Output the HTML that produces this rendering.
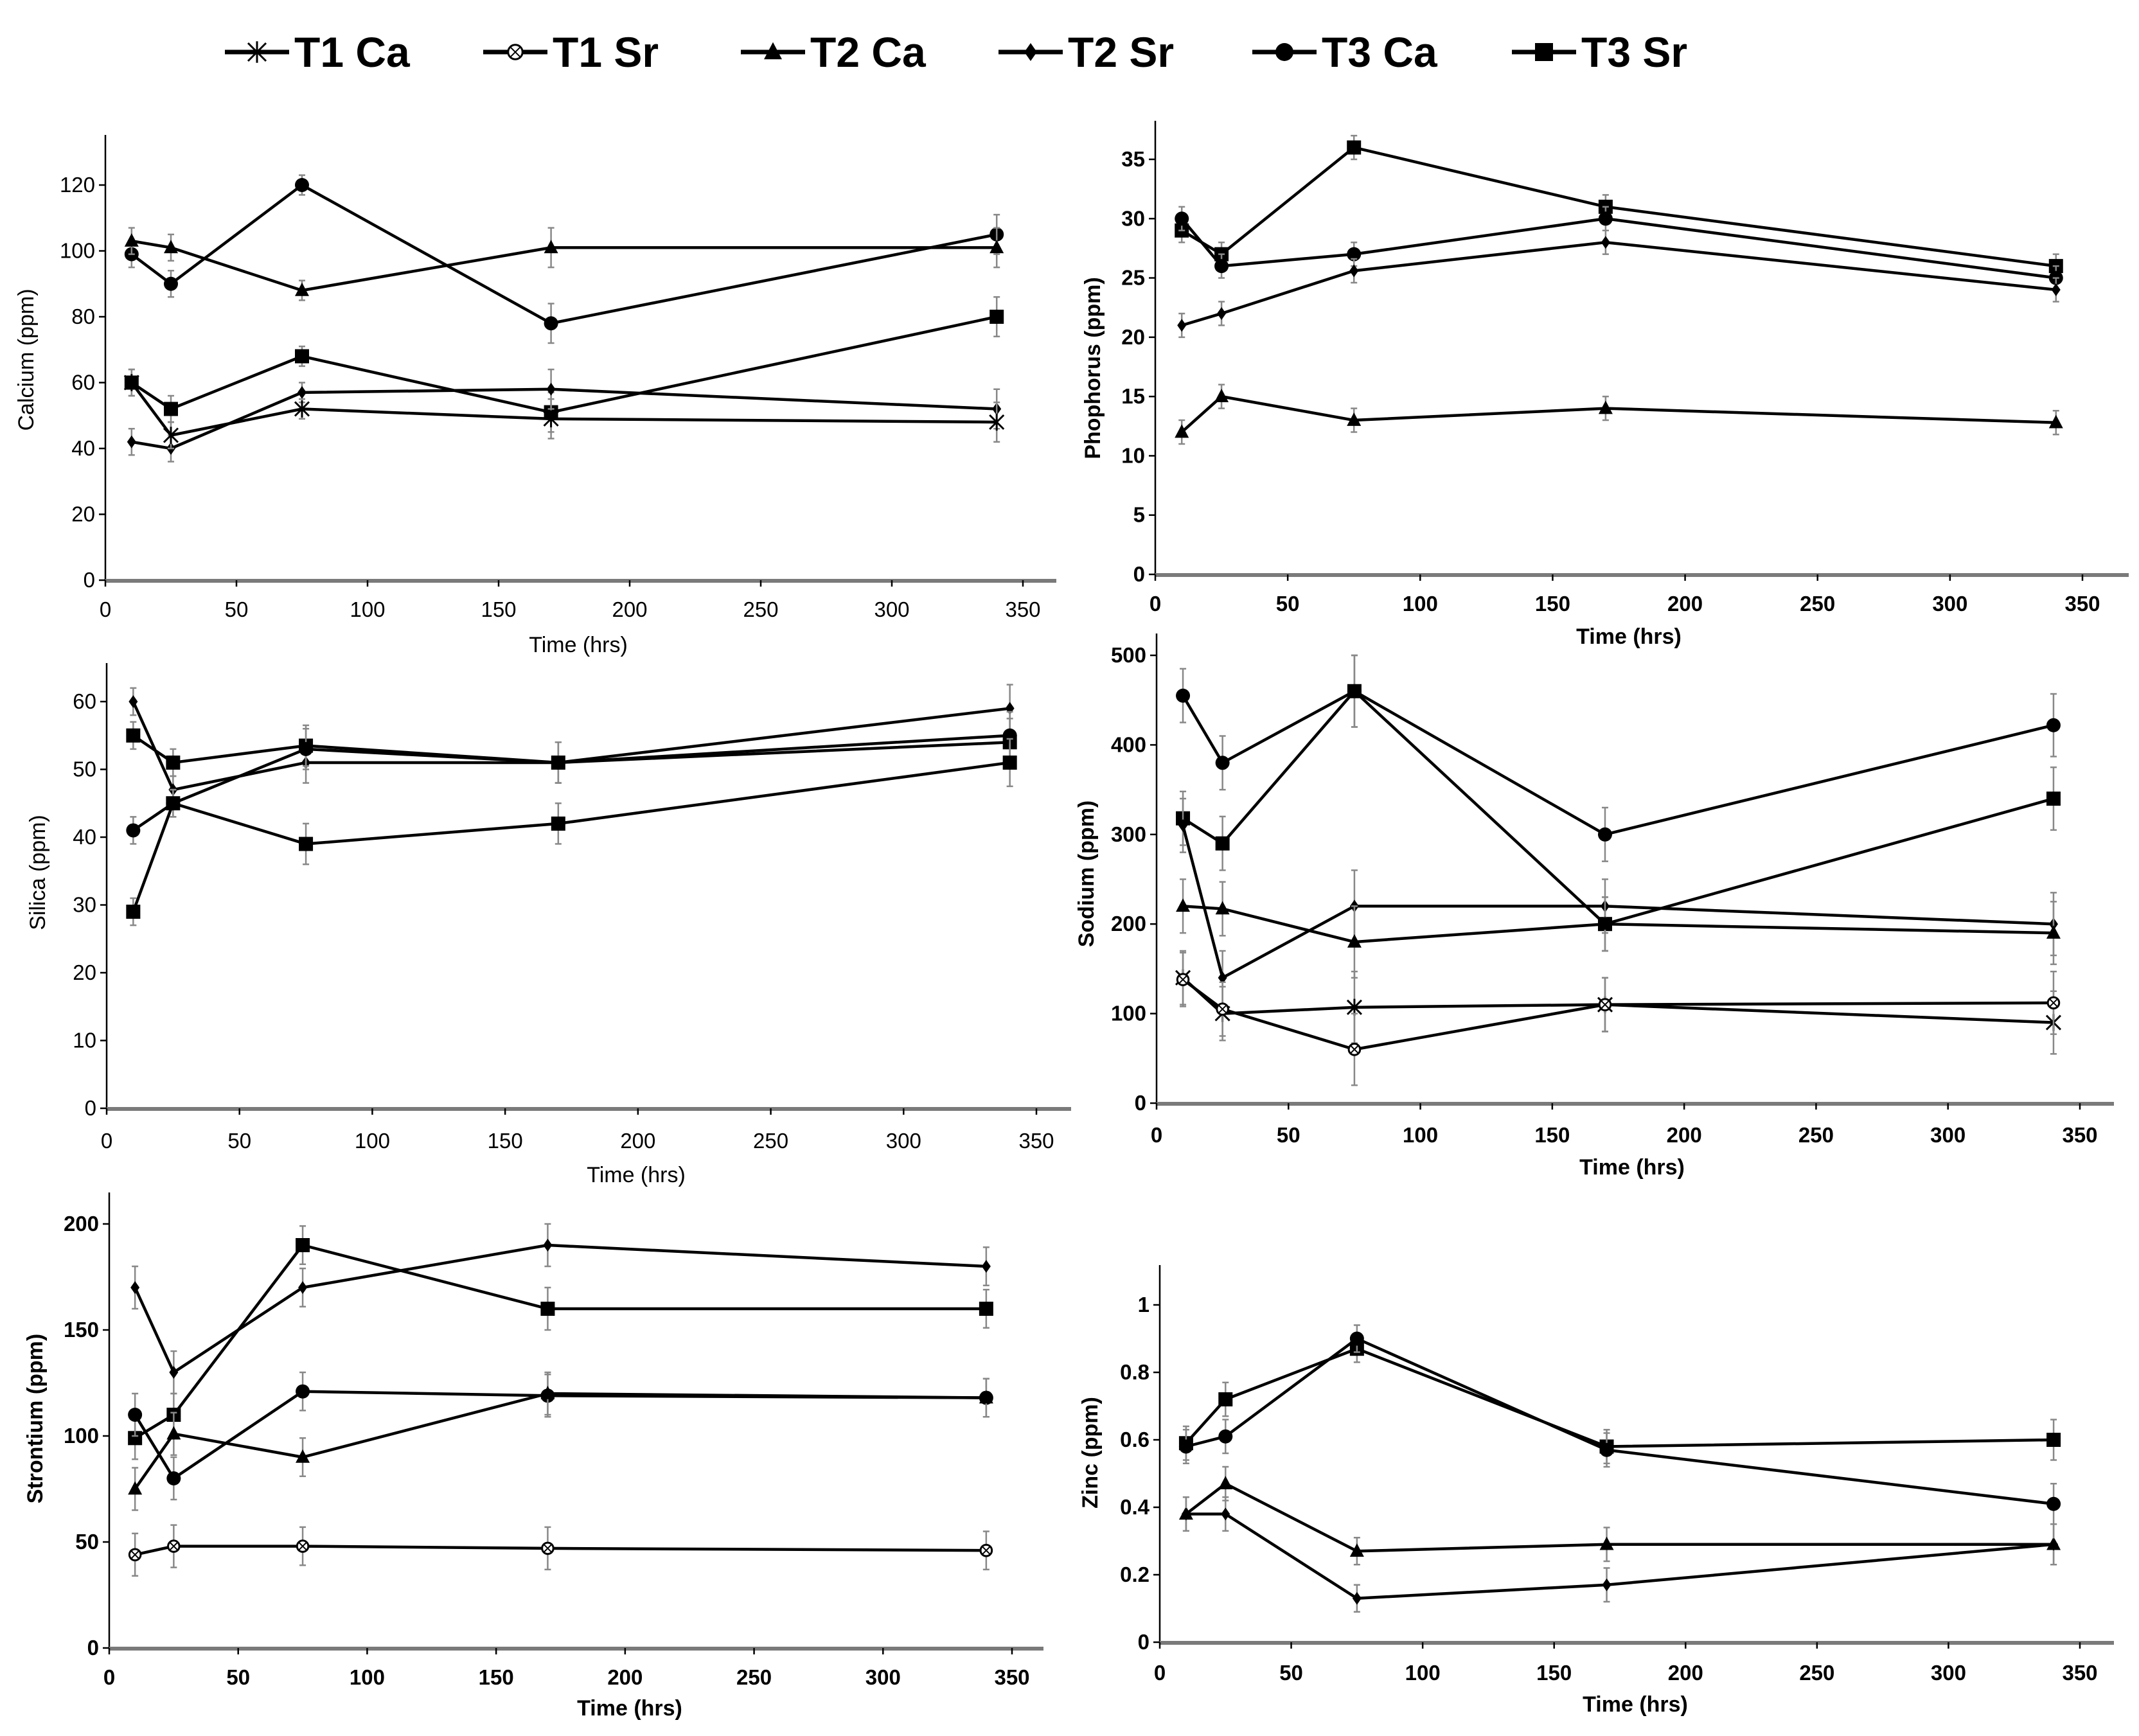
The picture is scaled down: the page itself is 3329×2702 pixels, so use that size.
<!DOCTYPE html>
<html><head><meta charset="utf-8">
<style>
html,body{margin:0;padding:0;background:#fff;}
svg{display:block;}
text{font-family:"Liberation Sans Narrow","Liberation Sans",sans-serif;}
</style></head>
<body>
<svg id="chart" width="3329" height="2702" viewBox="0 0 3329 2702" xmlns="http://www.w3.org/2000/svg">
<rect x="0" y="0" width="3329" height="2702" fill="#fff"/>
<g id="legend"></g>
<g id="panels"></g>
</svg>
<script>
// ---------- data ----------
const times = [10, 25, 75, 170, 340];
const xTicks = [0, 50, 100, 150, 200, 250, 300, 350];
const legendNames = ["T1 Ca", "T1 Sr", "T2 Ca", "T2 Sr", "T3 Ca", "T3 Sr"];
const legendMarkers = ["star", "xcircle", "triangle", "diamond", "circle", "square"];

const calciumT1Ca = [60, 44, 52, 49, 48];
const calciumT2Ca = [103, 101, 88, 101, 101];
const calciumT2Sr = [42, 40, 57, 58, 52];
const calciumT3Ca = [99, 90, 120, 78, 105];
const calciumT3Sr = [60, 52, 68, 51, 80];
const calciumErr = [4, 4, 3, 6, 6];
const calciumTicks = [0, 20, 40, 60, 80, 100, 120];

const phosT3Sr = [29, 27, 36, 31, 26];
const phosT3Ca = [30, 26, 27, 30, 25];
const phosT2Sr = [21, 22, 25.6, 28, 24];
const phosT2Ca = [12, 15, 13, 14, 12.8];
const phosErr = [1, 1, 1, 1, 1];
const phosTicks = [0, 5, 10, 15, 20, 25, 30, 35];

const silicaA = [60, 47, 51, 51, 59];
const silicaB = [55, 51, 53.5, 51, 54];
const silicaC = [41, 45, 53, 51, 55];
const silicaD = [29, 45, 39, 42, 51];
const silicaErr = [2, 2, 3, 3, 3.5];
const silicaTicks = [0, 10, 20, 30, 40, 50, 60];

const sodiumT3Ca = [455, 380, 460, 300, 422];
const sodiumT3Sr = [318, 290, 460, 200, 340];
const sodiumT2Sr = [310, 140, 220, 220, 200];
const sodiumT2Ca = [220, 217, 180, 200, 190];
const sodiumT1Ca = [140, 100, 107, 110, 90];
const sodiumT1Sr = [138, 105, 60, 110, 112];
const sodiumErr = [30, 30, 40, 30, 35];
const sodiumTicks = [0, 100, 200, 300, 400, 500];

const strDiamond = [170, 130, 170, 190, 180];
const strSquare = [99, 110, 190, 160, 160];
const strCircle = [110, 80, 121, 119, 118];
const strTriangle = [75, 101, 90, 120, 118];
const strT1Sr = [44, 48, 48, 47, 46];
const strErr = [10, 10, 9, 10, 9];
const strTicks = [0, 50, 100, 150, 200];

const zincSquare = [0.59, 0.72, 0.87, 0.58, 0.60];
const zincCircle = [0.58, 0.61, 0.90, 0.57, 0.41];
const zincTriangle = [0.38, 0.47, 0.27, 0.29, 0.29];
const zincDiamond = [0.38, 0.38, 0.13, 0.17, 0.29];
const zincErr = [0.05, 0.05, 0.04, 0.05, 0.06];
const zincTicks = [0, 0.2, 0.4, 0.6, 0.8, 1];

// ---------- layout (not data) ----------
const NS = "http://www.w3.org/2000/svg";
const panels = [
  {name:"calcium", title:"Calcium (ppm)", bold:false, x0:164, x350:1592, xEnd:1644, y0:903, yTopVal:120, yTopPx:288, axisTop:210,
   tickY:960, titleX:40, titleY:560, xTitleY:1015, xTitleX:900, xTitleBold:false,
   series:[[calciumT3Ca,"circle"],[calciumT2Ca,"triangle"],[calciumT3Sr,"square"],[calciumT2Sr,"diamond"],[calciumT1Ca,"star"]], err:calciumErr, ticks:calciumTicks},
  {name:"phosphorus", title:"Phophorus (ppm)", bold:true, x0:1798, x350:3241, xEnd:3313, y0:894, yTopVal:35, yTopPx:248, axisTop:188,
   tickY:951, titleX:1700, titleY:573, xTitleY:1002, xTitleX:2535, xTitleBold:true,
   series:[[phosT3Sr,"square"],[phosT3Ca,"circle"],[phosT2Sr,"diamond"],[phosT2Ca,"triangle"]], err:phosErr, ticks:phosTicks},
  {name:"silica", title:"Silica (ppm)", bold:false, x0:166, x350:1613, xEnd:1667, y0:1725, yTopVal:60, yTopPx:1092, axisTop:1032,
   tickY:1787, titleX:58, titleY:1358, xTitleY:1840, xTitleX:990, xTitleBold:false,
   series:[[silicaA,"diamond"],[silicaB,"square"],[silicaC,"circle"],[silicaD,"square"]], err:silicaErr, ticks:silicaTicks},
  {name:"sodium", title:"Sodium (ppm)", bold:true, x0:1800, x350:3237, xEnd:3290, y0:1717, yTopVal:500, yTopPx:1020, axisTop:986,
   tickY:1778, titleX:1690, titleY:1360, xTitleY:1828, xTitleX:2540, xTitleBold:true,
   series:[[sodiumT3Ca,"circle"],[sodiumT3Sr,"square"],[sodiumT2Sr,"diamond"],[sodiumT2Ca,"triangle"],[sodiumT1Ca,"star"],[sodiumT1Sr,"xcircle"]], err:sodiumErr, ticks:sodiumTicks},
  {name:"strontium", title:"Strontium (ppm)", bold:true, x0:170, x350:1575, xEnd:1624, y0:2565, yTopVal:200, yTopPx:1905, axisTop:1856,
   tickY:2622, titleX:54, titleY:2208, xTitleY:2670, xTitleX:980, xTitleBold:true,
   series:[[strDiamond,"diamond"],[strSquare,"square"],[strCircle,"circle"],[strTriangle,"triangle"],[strT1Sr,"xcircle"]], err:strErr, ticks:strTicks},
  {name:"zinc", title:"Zinc (ppm)", bold:true, x0:1805, x350:3237, xEnd:3290, y0:2556, yTopVal:1, yTopPx:2031, axisTop:1969,
   tickY:2615, titleX:1696, titleY:2261, xTitleY:2664, xTitleX:2545, xTitleBold:true,
   series:[[zincSquare,"square"],[zincCircle,"circle"],[zincTriangle,"triangle"],[zincDiamond,"diamond"]], err:zincErr, ticks:zincTicks}
];

function mk(tag, attrs, parent){
  const e = document.createElementNS(NS, tag);
  for (const k in attrs) e.setAttribute(k, attrs[k]);
  parent.appendChild(e);
  return e;
}

function drawMarker(g, type, cx, cy, s){
  if (type === "circle") mk("circle", {cx:cx, cy:cy, r:s, fill:"#000"}, g);
  else if (type === "square") mk("rect", {x:cx-s, y:cy-s, width:2*s, height:2*s, fill:"#000"}, g);
  else if (type === "triangle") mk("polygon", {points:`${cx},${cy-s*1.1} ${cx-s},${cy+s*0.8} ${cx+s},${cy+s*0.8}`, fill:"#000"}, g);
  else if (type === "diamond") mk("polygon", {points:`${cx},${cy-s} ${cx-s*0.7},${cy} ${cx},${cy+s} ${cx+s*0.7},${cy}`, fill:"#000"}, g);
  else if (type === "star") {
    mk("path", {d:`M${cx-s},${cy-s}L${cx+s},${cy+s}M${cx-s},${cy+s}L${cx+s},${cy-s}M${cx},${cy-s*1.2}L${cx},${cy+s*1.2}`, stroke:"#000", "stroke-width":3}, g);
  } else if (type === "xcircle") {
    mk("circle", {cx:cx, cy:cy, r:s*0.8, fill:"#fff", stroke:"#000", "stroke-width":3}, g);
    mk("path", {d:`M${cx-s*0.6},${cy-s*0.6}L${cx+s*0.6},${cy+s*0.6}M${cx-s*0.6},${cy+s*0.6}L${cx+s*0.6},${cy-s*0.6}`, stroke:"#000", "stroke-width":2}, g);
  }
}

// legend
const legendG = document.getElementById("legend");
const legendX = [350, 752, 1153, 1554, 1949, 2353];
legendNames.forEach((n, i) => {
  const g = mk("g", {}, legendG);
  
  
  const lx = legendX[i];
  mk("line", {x1:lx, y1:81, x2:lx+100, y2:81, stroke:"#000", "stroke-width":7}, g);
  drawMarker(g, legendMarkers[i], lx+50, 81, 14);
  const t = mk("text", {x:lx+108, y:104, "font-size":66, "font-weight":"bold", fill:"#000"}, g);
  t.style.fontFamily = '"Liberation Sans", sans-serif';
  t.textContent = n;
});

// panels
const root = document.getElementById("panels");
panels.forEach(p => {
  const g = mk("g", {}, root);
  
  
  const xs = v => p.x0 + (v / 350) * (p.x350 - p.x0);
  const ys = v => p.y0 - (v / p.yTopVal) * (p.y0 - p.yTopPx);

  // axes
  const ya = mk("line", {x1:p.x0, y1:p.axisTop, x2:p.x0, y2:p.y0, stroke:"#000", "stroke-width":2.5}, g);
  
  
  const xa = mk("line", {x1:p.x0, y1:p.y0+1, x2:p.xEnd, y2:p.y0+1, stroke:"#7a7a7a", "stroke-width":6}, g);
  
  

  p.ticks.forEach(v => {
    const y = ys(v);
    mk("line", {x1:p.x0-10, y1:y, x2:p.x0, y2:y, stroke:"#000", "stroke-width":2.5}, g);
    const t = mk("text", {x:p.x0-16, y:y+11, "font-size":33, "text-anchor":"end", fill:"#000", "font-weight":p.bold?"bold":"normal"}, g);
    
    
    t.textContent = String(v);
  });
  xTicks.forEach(v => {
    const x = xs(v);
    mk("line", {x1:x, y1:p.y0, x2:x, y2:p.y0+10, stroke:"#000", "stroke-width":2.5}, g);
    const t = mk("text", {x:x, y:p.tickY, "font-size":33, "text-anchor":"middle", fill:"#000", "font-weight":p.bold?"bold":"normal"}, g);
    
    
    t.textContent = String(v);
  });

  const yt = mk("text", {x:0, y:0, "font-size":34, "text-anchor":"middle", fill:"#000", "font-weight":p.bold?"bold":"normal",
    transform:`translate(${p.titleX+12},${p.titleY}) rotate(-90)`}, g);
  yt.style.fontFamily = '"Liberation Sans", sans-serif';
  
  
  yt.textContent = p.title;

  const xt = mk("text", {x:p.xTitleX, y:p.xTitleY, "font-size":34, "text-anchor":"middle", fill:"#000", "font-weight":p.xTitleBold?"bold":"normal"}, g);
  
  
  xt.textContent = "Time (hrs)";

  p.series.forEach((s, si) => {
    const vals = s[0], mtype = s[1];
    const sg = mk("g", {}, g);
    
    
    // error bars
    vals.forEach((v, i) => {
      const x = xs(times[i]), e = p.err[i];
      const y1 = ys(v + e), y2 = ys(v - e);
      mk("path", {d:`M${x},${y1}L${x},${y2}M${x-5},${y1}L${x+5},${y1}M${x-5},${y2}L${x+5},${y2}`, stroke:"#888", "stroke-width":2.5, fill:"none"}, sg);
    });
    const pts = vals.map((v, i) => xs(times[i]) + "," + ys(v)).join(" ");
    const pl = mk("polyline", {points:pts, fill:"none", stroke:"#000", "stroke-width":4.5, "stroke-linejoin":"round"}, sg);
    
    
    vals.forEach((v, i) => {
      drawMarker(sg, mtype, xs(times[i]), ys(v), mtype === "diamond" ? 10 : 11);
    });
  });
});
</script>
</body></html>
